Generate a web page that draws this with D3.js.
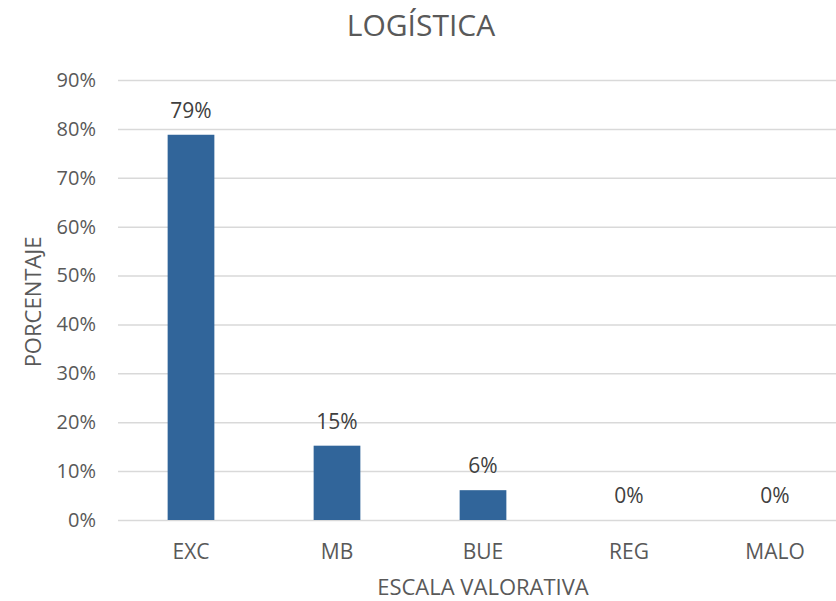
<!DOCTYPE html>
<html>
<head>
<meta charset="utf-8">
<script src="https://cdn.jsdelivr.net/npm/d3@7"></script>
<style>
  body { margin: 0; background: #fff; }
  svg { font-family: "Open Sans", sans-serif; }
</style>
</head>
<body>
<svg></svg>
<script>
const categories = ["EXC", "MB", "BUE", "REG", "MALO"];
const values = [0.788, 0.152, 0.061, 0, 0];
const tickValues = [0, 0.1, 0.2, 0.3, 0.4, 0.5, 0.6, 0.7, 0.8, 0.9];

const width = 836;
const height = 601;
const plotLeft = 118;
const plotRight = 848;
const plotTop = 80;
const plotBottom = 520;
const textColor = "#595959";

const svg = d3.select("svg")
  .attr("width", width)
  .attr("height", height);

var xScale = d3
  .scaleBand()
  .domain(categories)
  .range([plotLeft, plotRight])
  .paddingInner(0.68)
  .paddingOuter(0.34);

var yScale = d3
  .scaleLinear()
  .domain([0, 0.9])
  .range([plotBottom, plotTop]);

var yAxis = d3
  .axisLeft(yScale)
  .tickValues(tickValues)
  .tickFormat(d3.format(".0%"))
  .tickSize(-(width - plotLeft))
  .tickPadding(22);

var gy = svg.append("g")
  .attr("transform", `translate(${plotLeft}, 0)`)
  .call(yAxis);
gy.select(".domain").remove();
gy.selectAll(".tick line").attr("stroke", "#d9d9d9").attr("stroke-width", 1.5);
gy.selectAll(".tick text")
  .attr("fill", textColor)
  .style("font-family", "Open Sans")
  .style("font-size", "20px");

var xAxis = d3.axisBottom(xScale).tickSize(0);
var gx = svg.append("g")
  .attr("transform", `translate(0, ${plotBottom})`)
  .call(xAxis);
gx.select(".domain").remove();
gx.selectAll(".tick text")
  .attr("y", 39)
  .attr("dy", 0)
  .attr("fill", textColor)
  .style("font-family", "Open Sans")
  .style("font-size", "21px");

svg.selectAll("rect.bar")
  .data(values)
  .enter()
  .append("rect")
  .attr("class", "bar")
  .attr("x", (d, i) => xScale(categories[i]))
  .attr("y", d => yScale(d))
  .attr("width", xScale.bandwidth())
  .attr("height", d => plotBottom - yScale(d))
  .attr("fill", "#31659a");

svg.selectAll("text.label")
  .data(values)
  .enter()
  .append("text")
  .attr("class", "label")
  .attr("x", (d, i) => xScale(categories[i]) + xScale.bandwidth() / 2)
  .attr("y", d => yScale(d) - 17)
  .attr("text-anchor", "middle")
  .attr("fill", "#404040")
  .style("font-size", "21px")
  .text(d => d3.format(".0%")(d));

svg.append("text")
  .attr("x", 421)
  .attr("y", 36)
  .attr("text-anchor", "middle")
  .attr("fill", textColor)
  .style("font-size", "30px")
  .text("LOGÍSTICA");

svg.append("text")
  .attr("x", 483)
  .attr("y", 595)
  .attr("text-anchor", "middle")
  .attr("fill", textColor)
  .style("font-size", "22px")
  .text("ESCALA VALORATIVA");

svg.append("text")
  .attr("x", -302)
  .attr("y", 41)
  .attr("transform", "rotate(-90)")
  .attr("text-anchor", "middle")
  .attr("fill", textColor)
  .style("font-size", "22px")
  .text("PORCENTAJE");
</script>
</body>
</html>
